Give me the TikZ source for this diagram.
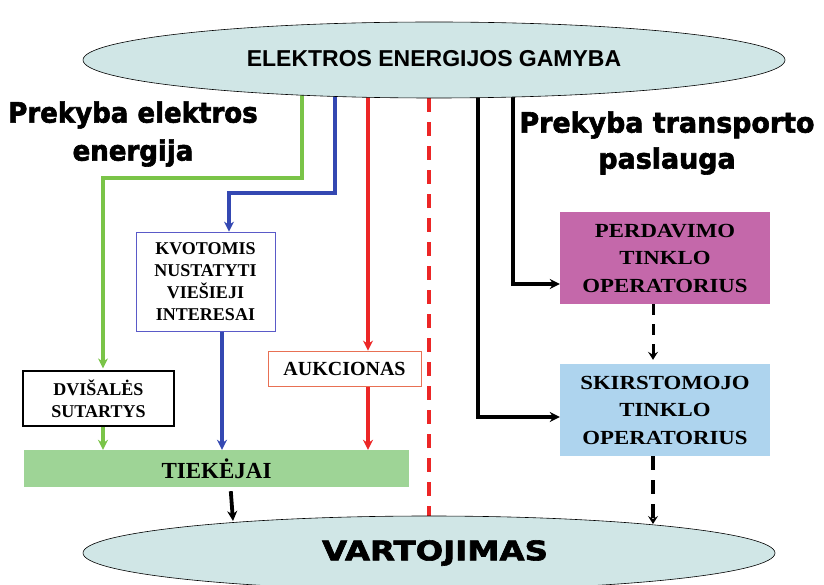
\documentclass[tikz,border=0pt]{standalone}
\usepackage{fontspec}
\setmainfont{Liberation Serif}
\setsansfont{Liberation Sans}
\newfontfamily\heavyfont{DejaVu Sans}[BoldFeatures={FakeBold=2.2}]
\newfontfamily\opfont{Liberation Serif}[FakeStretch=1.14]
\usepackage{tikz}
\usetikzlibrary{backgrounds}
\usetikzlibrary{shapes.geometric}
\usetikzlibrary{arrows.meta}
\definecolor{ovalCol}{RGB}{208,230,230}
\definecolor{greenCol}{RGB}{122,196,72}
\definecolor{blueCol}{RGB}{52,72,178}
\definecolor{redCol}{RGB}{236,38,38}
\definecolor{supplyCol}{RGB}{158,212,150}
\definecolor{tsoCol}{RGB}{196,104,170}
\definecolor{dsoCol}{RGB}{174,212,238}
\definecolor{kvotBorder}{RGB}{90,90,200}
\definecolor{aukcBorder}{RGB}{232,112,84}

\tikzset{
  oval/.style={ellipse, draw=black, line width=0.6pt, fill=ovalCol, inner sep=0pt},
  plainbox/.style={draw, fill=white, align=center, inner sep=0pt,
    font=\fontsize{18}{22}\selectfont\bfseries},
  opbox/.style={align=center, inner sep=0pt, minimum width=210pt, minimum height=92pt,
    font=\opfont\fontsize{20}{27.5}\selectfont\bfseries},
  heading/.style={align=center},
  flowarrow/.style={line width=3.2pt, -{Stealth[length=10pt,width=10pt]}},
  dasharrow/.style={line width=3pt, dash pattern=on 11pt off 9pt, -{Stealth[length=8pt,width=10pt,inset=3pt]}},
}

\begin{document}
\begin{tikzpicture}[x=1pt, y=-1pt]
%--------------------------------------------------
\useasboundingbox (0,0) rectangle (824,585);
\clip (0,0) rectangle (824,585);

% production and consumption
\node[oval, minimum width=702pt, minimum height=76pt] (gamyba) at (434,60)
  {\raisebox{3pt}{\sffamily\bfseries\fontsize{23}{26}\selectfont ELEKTROS ENERGIJOS GAMYBA}};
\node[oval, minimum width=692pt, minimum height=74pt] (vartojimas) at (429,553)
  {\hspace*{12pt}\raisebox{2pt}{\heavyfont\bfseries\fontsize{27}{30}\selectfont\scalebox{1.2}[1]{VARTOJIMAS}}};

% headings
\node[heading, xscale=0.93, font=\heavyfont\bfseries\fontsize{28}{38}\selectfont] (prekybaEl) at (133,134)
  {Prekyba elektros\\energija};
\node[heading, xscale=0.96, font=\heavyfont\bfseries\fontsize{28}{36}\selectfont] (prekybaTr) at (667,143)
  {Prekyba transporto\\paslauga};

% left side boxes
\node[plainbox, line width=1.2pt, minimum width=151pt, minimum height=55pt] (dvisales) at (98.5,398.5)
  {DVIŠALĖS\\SUTARTYS};
\node[plainbox, draw=kvotBorder, line width=0.7pt, minimum width=139pt, minimum height=99pt] (kvotomis) at (205.5,281.5)
  {KVOTOMIS\\NUSTATYTI\\VIEŠIEJI\\INTERESAI};
\node[plainbox, draw=aukcBorder, line width=0.8pt, minimum width=153pt, minimum height=35pt,
  font=\fontsize{20}{22}\selectfont\bfseries] (aukcionas) at (344.5,368.5) {AUKCIONAS};
\node[fill=supplyCol, minimum width=385pt, minimum height=37pt, inner sep=0pt,
  font=\fontsize{23}{26}\selectfont\bfseries] (tiekejai) at (216.5,468.5) {TIEKĖJAI};

% right side boxes
\node[opbox, fill=tsoCol] (perdavimo) at (665,258) {PERDAVIMO\\TINKLO\\OPERATORIUS};
\node[opbox, fill=dsoCol] (skirstomojo) at (665,410) {SKIRSTOMOJO\\TINKLO\\OPERATORIUS};

% columns of the connectors
\coordinate (gStart) at (302,80);
\coordinate (gBend) at (103,178);
\coordinate (bStart) at (335,80);
\coordinate (bBend) at (229,193);
\coordinate (bLow) at (222,0);
\coordinate (rStart) at (368,80);
\coordinate (tStart) at (513,80);
\coordinate (dStart) at (478,80);
\coordinate (opCol) at (653,0);
\coordinate (vTiek) at (233,521);
\coordinate (vOp) at (653,524);

\begin{scope}[on background layer]
% trading of electricity
\draw[flowarrow, draw=greenCol, shorten >=2pt] (gStart) |- (gBend) -- (dvisales.north -| gBend);
\draw[flowarrow, draw=greenCol] (dvisales.south -| gBend) -- (tiekejai.north -| gBend);
\draw[flowarrow, draw=blueCol] (bStart) |- (bBend) -- (kvotomis.north -| bBend);
\draw[flowarrow, draw=blueCol] (kvotomis.south -| bLow) -- (tiekejai.north -| bLow);
\draw[flowarrow, draw=redCol] (rStart) -- (aukcionas.north -| rStart);
\draw[flowarrow, draw=redCol] (aukcionas.south -| rStart) -- (tiekejai.north -| rStart);
\draw[flowarrow, line width=3.8pt, shorten <=4pt] ([xshift=14pt]tiekejai.south) -- (vTiek);

% dividing line
\draw[redCol, line width=3.5pt, dash pattern=on 14pt off 10pt] (gamyba.south -| vartojimas.north) -- (vartojimas.north);

% trading of transport service
\draw[flowarrow] (tStart) |- ([yshift=-26pt]perdavimo.west);
\draw[flowarrow] (dStart) |- ([yshift=-7pt]skirstomojo.west);
\draw[dasharrow, shorten >=4pt] (perdavimo.south -| opCol) -- (skirstomojo.north -| opCol);
\draw[dasharrow, line width=3.8pt, dash pattern=on 14pt off 10pt] (skirstomojo.south -| opCol) -- (vOp);
\end{scope}

%--------------------------------------------------
\end{tikzpicture}
\end{document}
